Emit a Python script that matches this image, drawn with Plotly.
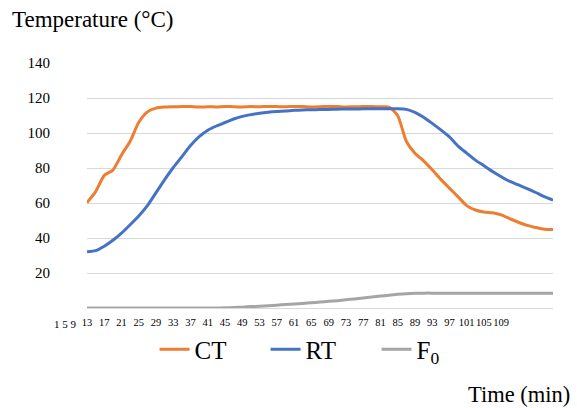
import plotly.graph_objects as go

# Time (min), sampled every 2 minutes
time_min = list(range(13, 122, 2))

ct = [60.2, 66.5, 75.8, 78.8, 87.5, 95.3, 106.1, 112.1, 114.2, 114.8,
      115.0, 115.2, 115.1, 114.8, 115.0, 114.9, 115.2, 115.0, 114.9, 115.1,
      115.0, 115.2, 115.1, 115.0, 115.2, 115.1, 114.9, 115.0, 115.2, 115.1,
      114.9, 115.0, 115.1, 115.2, 115.0, 114.8, 110.0, 95.3, 88.4, 84.1,
      79.0, 73.5, 68.5, 63.5, 58.5, 56.0, 54.8, 54.4, 53.2, 51.0,
      49.0, 47.2, 46.0, 45.0, 44.8]

rt = [32.1, 32.8, 35.3, 38.7, 42.8, 47.6, 52.6, 58.5, 65.9, 73.4,
      80.3, 86.5, 92.8, 97.9, 101.6, 104.0, 106.0, 108.0, 109.5, 110.5,
      111.3, 111.9, 112.3, 112.6, 113.0, 113.2, 113.3, 113.4, 113.5, 113.6,
      113.7, 113.7, 113.8, 113.8, 113.8, 113.8, 113.8, 113.5, 111.8, 109.0,
      105.5, 101.8, 97.8, 92.5, 88.5, 84.5, 81.3, 78.0, 75.0, 72.3,
      70.3, 68.2, 66.0, 63.6, 61.6]

f0 = [0, 0, 0, 0, 0, 0, 0, 0, 0, 0,
      0, 0, 0, 0, 0, 0, 0.1, 0.3, 0.5, 0.8,
      1.0, 1.3, 1.6, 2.0, 2.3, 2.6, 3.0, 3.4, 3.8, 4.2,
      4.7, 5.2, 5.7, 6.3, 6.8, 7.3, 7.8, 8.2, 8.4, 8.5,
      8.5, 8.5, 8.5, 8.5, 8.5, 8.5, 8.5, 8.5, 8.5, 8.5,
      8.5, 8.5, 8.5, 8.5, 8.5]

x_ticks = list(range(13, 110, 4))
x_tick_labels = [str(v) for v in x_ticks]
y_ticks = [20, 40, 60, 80, 100, 120, 140]
y_tick_labels = [str(v) for v in y_ticks]
series_names = ["CT", "RT", "F<sub>0</sub>"]

serif = "Liberation Serif"

fig = go.Figure()
for name, vals, color in zip(series_names, [ct, rt, f0],
                             ["#ED7D31", "#4472C4", "#A5A5A5"]):
    fig.add_trace(go.Scatter(
        x=time_min, y=vals, name=name, mode="lines",
        line=dict(color=color, width=3, shape="spline", smoothing=0.6),
    ))

fig.update_layout(
    width=577, height=408,
    margin=dict(l=87, r=24, t=63, b=100, autoexpand=False),
    paper_bgcolor="white", plot_bgcolor="white",
    font=dict(family=serif, color="#000000"),
    showlegend=True,
    legend=dict(orientation="h", x=0.145, xanchor="left", y=-0.169,
                yanchor="middle", font=dict(size=25, family=serif),
                entrywidth=66, entrywidthmode="pixels",
                tracegroupgap=0, bgcolor="rgba(0,0,0,0)"),
    xaxis=dict(range=[13, 121], tickmode="array", tickvals=x_ticks,
               ticktext=x_tick_labels, showgrid=False, zeroline=False,
               showline=False, ticks="", tickfont=dict(size=10.5, family=serif),
               tickangle=0, ticklabelstandoff=6, automargin=False),
    yaxis=dict(range=[0, 140], tickmode="array", tickvals=y_ticks,
               ticktext=y_tick_labels, showgrid=True, gridcolor="#D9D9D9",
               gridwidth=1, zeroline=True, zerolinecolor="#D9D9D9",
               zerolinewidth=1, showline=False, ticks="",
               ticklabelstandoff=36, automargin=False,
               tickfont=dict(size=15, family=serif)),
    annotations=[
        dict(text="Temperature (°C)", xref="paper", yref="paper",
             x=-0.165, y=1.177, xanchor="left", yanchor="middle",
             showarrow=False, font=dict(size=23, family=serif)),
        dict(text="Time (min)", xref="paper", yref="paper",
             x=1.04, y=-0.352, xanchor="right", yanchor="middle",
             showarrow=False, font=dict(size=22.5, family=serif)),
        dict(text="1 5 9", xref="paper", yref="paper",
             x=-0.017, y=-0.065, xanchor="right", yanchor="middle",
             showarrow=False, font=dict(size=11, family=serif)),
    ],
)

fig.write_html(
    "out.html",
    config={"displayModeBar": False},
    post_script="document.body.style.margin='0';"
                "document.body.style.overflow='hidden';",
)
